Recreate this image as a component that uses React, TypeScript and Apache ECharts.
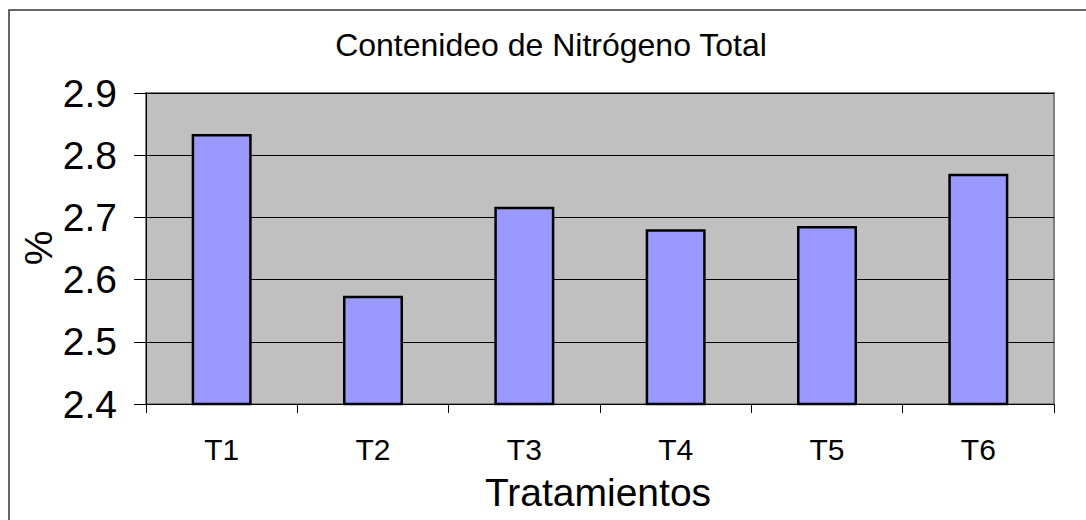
import React, { useEffect, useRef } from "react";
import * as echarts from "echarts";

const categories = ["T1", "T2", "T3", "T4", "T5", "T6"];
const values = [2.834, 2.574, 2.717, 2.681, 2.686, 2.77];
const title = "Contenideo de Nitrógeno Total";
const xName = "Tratamientos";
const yName = "%";

export default function App() {
  const ref = useRef<HTMLDivElement>(null);
  useEffect(() => {
    if (!ref.current) return;
    const chart = echarts.init(ref.current, null, { renderer: "svg" });
    const font = "Arial, 'Liberation Sans', sans-serif";
    chart.setOption({
      animation: false,
      backgroundColor: "#ffffff",
      textStyle: { fontFamily: font, color: "#000" },
      graphic: [
        {
          type: "rect",
          shape: { x: 9, y: 10, width: 1200, height: 600 },
          style: { fill: "none", stroke: "#333333", lineWidth: 1.5 },
          z: -1,
        },
        {
          type: "text",
          x: 551,
          y: 45,
          style: {
            text: title,
            font: `32px ${font}`,
            fill: "#000",
            textAlign: "center",
            textVerticalAlign: "middle",
          },
        },
        {
          type: "text",
          x: 598,
          y: 492,
          style: {
            text: xName,
            font: `39px ${font}`,
            fill: "#000",
            textAlign: "center",
            textVerticalAlign: "middle",
          },
        },
        {
          type: "text",
          x: 38,
          y: 248,
          rotation: Math.PI / 2,
          style: {
            text: yName,
            font: `39px ${font}`,
            fill: "#000",
            textAlign: "center",
            textVerticalAlign: "middle",
          },
        },
        {
          type: "rect",
          shape: { x: 146, y: 93, width: 908, height: 311 },
          style: { fill: "none", stroke: "#808080", lineWidth: 2 },
          z: 0,
        },
      ],
      grid: {
        left: 146,
        top: 93,
        right: 32,
        bottom: 116,
        show: true,
        backgroundColor: "#c0c0c0",
        borderWidth: 0,
      },
      xAxis: {
        type: "category",
        data: categories,
        axisLine: { show: true, lineStyle: { color: "#000", width: 1 } },
        axisTick: {
          show: true,
          alignWithLabel: false,
          length: 9,
          lineStyle: { color: "#000" },
        },
        axisLabel: { fontSize: 30, color: "#000", margin: 30, fontFamily: font },
      },
      yAxis: {
        type: "value",
        min: 2.4,
        max: 2.9,
        interval: 0.1,
        axisLine: { show: true, lineStyle: { color: "#000", width: 1 } },
        axisTick: { show: true, length: 12, inside: false, lineStyle: { color: "#000" } },
        axisLabel: {
          fontSize: 39,
          color: "#000",
          margin: 29,
          fontFamily: font,
          formatter: (v: number) => v.toFixed(1),
        },
        splitLine: { show: true, lineStyle: { color: "#000", width: 1 } },
      },
      series: [
        {
          type: "bar",
          data: values,
          barWidth: 60,
          itemStyle: { color: "#9999ff", borderColor: "#000", borderWidth: 2.5 },
          z: 3,
        },
      ],
    });
    return () => chart.dispose();
  }, []);
  return (
    <div
      ref={ref}
      style={{ position: "fixed", left: 0, top: 0, width: 1086, height: 520 }}
    />
  );
}
